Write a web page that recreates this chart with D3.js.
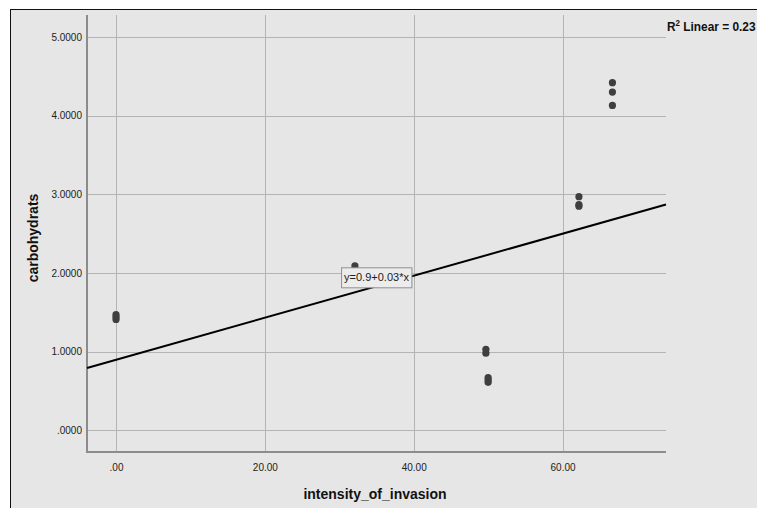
<!DOCTYPE html>
<html>
<head>
<meta charset="utf-8">
<script src="https://cdn.jsdelivr.net/npm/d3@7"></script>
<style>
  html, body { margin: 0; padding: 0; background: #ffffff; }
  svg { display: block; }
</style>
</head>
<body>
<svg id="chart" width="757" height="508"></svg>
<script>
// ---- data ----
const intensity = [0, 0, 0, 32.1, 49.7, 49.7, 50, 50, 50, 62.2, 62.2, 62.2, 66.7, 66.7, 66.7];
const carbohydrats = [1.41, 1.44, 1.47, 2.09, 0.98, 1.03, 0.61, 0.64, 0.67, 2.85, 2.87, 2.97, 4.13, 4.30, 4.42];
const xTicks = [0, 20, 40, 60];
const yTicks = [0, 1, 2, 3, 4, 5];
const fitIntercept = 0.897;
const fitSlope = 0.0267;
const fitLabel = "y=0.9+0.03*x";
const fitLabelAt = [35, 1.945];
const r2Text = ["R", "2", " Linear = 0.23"];
const xTitle = "intensity_of_invasion";
const yTitle = "carbohydrats";
const xDomain = [-3.9, 73.9];
const yDomain = [-0.276, 5.28];

// ---- layout ----
const svg = d3.select("#chart");
const W = 757, H = 508;
const plot = { left: 87, right: 666, top: 15, bottom: 452 };

// frame
svg.append("rect").attr("x", 10.5).attr("y", 9.5).attr("width", W).attr("height", H)
  .attr("fill", "#e6e6e6").attr("stroke", "#111").attr("stroke-width", 1);

const x = d3.scaleLinear().domain(xDomain).range([plot.left, plot.right]);
const y = d3.scaleLinear().domain(yDomain).range([plot.bottom, plot.top]);

// gridlines
const grid = svg.append("g").attr("stroke", "#b4b4b4").attr("stroke-width", 1);
grid.selectAll("line.h").data(yTicks).join("line")
  .attr("x1", plot.left).attr("x2", plot.right)
  .attr("y1", d => Math.round(y(d)) + 0.5).attr("y2", d => Math.round(y(d)) + 0.5);
grid.selectAll("line.v").data(xTicks).join("line")
  .attr("y1", plot.top).attr("y2", plot.bottom)
  .attr("x1", d => Math.round(x(d)) + 0.5).attr("x2", d => Math.round(x(d)) + 0.5);

// axes
const yAxis = d3.axisLeft(y).tickValues(yTicks).tickSize(0).tickPadding(5)
  .tickFormat(d => d === 0 ? ".0000" : d3.format(".4f")(d));
const gy = svg.append("g").attr("transform", `translate(${plot.left},0)`).call(yAxis);
gy.select(".domain").remove();
gy.selectAll("text").attr("font-family", "'Liberation Sans', Arial, sans-serif")
  .attr("font-size", 10).attr("fill", "#222");

const xAxis = d3.axisBottom(x).tickValues(xTicks).tickSize(0).tickPadding(12)
  .tickFormat(d => d === 0 ? ".00" : d3.format(".2f")(d));
const gx = svg.append("g").attr("transform", `translate(0,${plot.bottom})`).call(xAxis);
gx.select(".domain").remove();
gx.selectAll("text").attr("font-family", "'Liberation Sans', Arial, sans-serif")
  .attr("font-size", 10).attr("fill", "#222");

// axis lines
svg.append("line").attr("x1", plot.left).attr("x2", plot.left)
  .attr("y1", plot.top).attr("y2", plot.bottom + 1)
  .attr("stroke", "#8c8c8c").attr("stroke-width", 2);
svg.append("line").attr("x1", plot.left - 1).attr("x2", plot.right)
  .attr("y1", plot.bottom).attr("y2", plot.bottom)
  .attr("stroke", "#8c8c8c").attr("stroke-width", 2);

// regression line
svg.append("line")
  .attr("x1", x(xDomain[0])).attr("y1", y(fitIntercept + fitSlope * xDomain[0]))
  .attr("x2", x(xDomain[1])).attr("y2", y(fitIntercept + fitSlope * xDomain[1]))
  .attr("stroke", "#000").attr("stroke-width", 2);

// points
const pts = intensity.map((v, i) => [v, carbohydrats[i]]);
svg.append("g").selectAll("circle").data(pts).join("circle")
  .attr("cx", d => x(d[0])).attr("cy", d => y(d[1])).attr("r", 3.6)
  .attr("fill", "#3f3f3f");

// fit label
const lbl = svg.append("g").attr("transform", `translate(${x(fitLabelAt[0])},${y(fitLabelAt[1])})`);
const lt = lbl.append("text").attr("text-anchor", "middle").attr("dy", "0.35em")
  .attr("font-family", "'Liberation Sans', Arial, sans-serif").attr("font-size", 11)
  .attr("fill", "#222").text(fitLabel);
const bb = lt.node().getBBox();
lbl.insert("rect", "text").attr("x", bb.x - 2.5).attr("y", -9.5)
  .attr("width", bb.width + 5).attr("height", 20)
  .attr("fill", "#ececec").attr("stroke", "#8f8f8f").attr("stroke-width", 1);

// R2 text (condensed to fit like the original narrow font)
const r2 = svg.append("text").attr("transform", "translate(667,31) scale(0.88,1)")
  .attr("font-family", "'Liberation Sans', Arial, sans-serif")
  .attr("font-weight", "bold").attr("font-size", 13.5).attr("fill", "#111");
r2.append("tspan").text(r2Text[0]);
r2.append("tspan").attr("dy", -5).attr("font-size", 9).text(r2Text[1]);
r2.append("tspan").attr("dy", 5).text(r2Text[2]);

// axis titles
svg.append("text").attr("x", 375).attr("y", 499).attr("text-anchor", "middle")
  .attr("font-family", "'Liberation Sans', Arial, sans-serif").attr("font-weight", "bold")
  .attr("font-size", 14).attr("fill", "#111").text(xTitle);
svg.append("text").attr("transform", "translate(38,238) rotate(-90)").attr("text-anchor", "middle")
  .attr("font-family", "'Liberation Sans', Arial, sans-serif").attr("font-weight", "bold")
  .attr("font-size", 14).attr("fill", "#111").text(yTitle);
</script>
</body>
</html>
